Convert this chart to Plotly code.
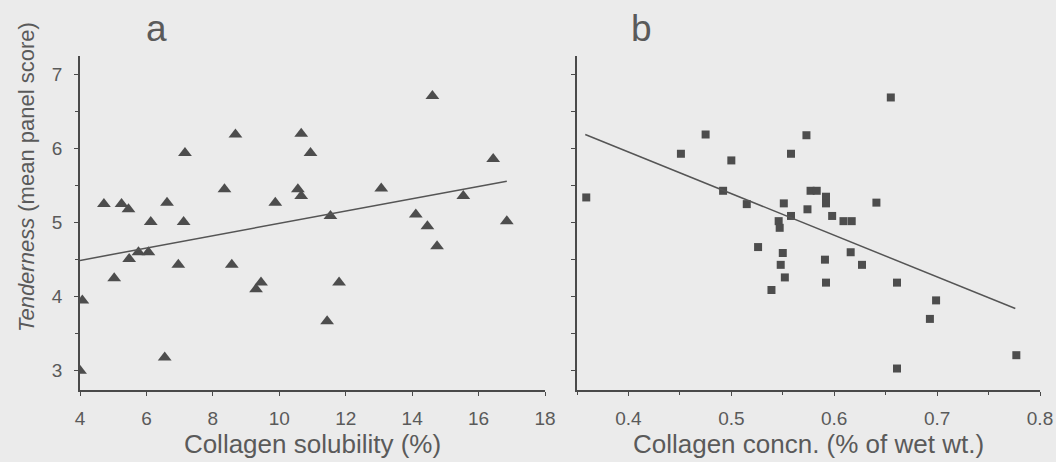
import plotly.graph_objects as go

# Panel a: collagen solubility (%) vs tenderness
sol_x = [4.07, 4.0, 4.72, 5.25, 5.46, 5.03, 5.48, 5.76, 6.06, 6.13, 6.62, 7.16, 7.12, 6.96,
         6.55, 8.35, 8.68, 8.57, 9.88, 9.30, 9.45, 10.66, 10.94, 10.56, 10.66, 11.54, 13.07,
         14.61, 11.80, 11.44, 14.11, 14.46, 14.75, 15.54, 16.44, 16.85]
sol_y = [3.95, 3.0, 5.25, 5.25, 5.18, 4.25, 4.51, 4.60, 4.60, 5.01, 5.27, 5.94, 5.01, 4.43,
         3.18, 5.45, 6.19, 4.43, 5.27, 4.10, 4.19, 6.20, 5.94, 5.45, 5.36, 5.09, 5.46,
         6.71, 4.19, 3.67, 5.11, 4.95, 4.68, 5.36, 5.86, 5.02]
fit_a_x = [4.0, 16.85]
fit_a_y = [4.49, 5.56]

# Panel b: collagen concentration (% of wet wt.) vs tenderness
conc_x = [0.359, 0.451, 0.475, 0.500, 0.492, 0.515, 0.526, 0.539, 0.546, 0.547, 0.550, 0.548,
          0.552, 0.551, 0.558, 0.558, 0.573, 0.655, 0.577, 0.583, 0.592, 0.592, 0.574, 0.598,
          0.609, 0.617, 0.641, 0.591, 0.592, 0.616, 0.627, 0.661, 0.699, 0.693, 0.777, 0.661]
conc_y = [5.34, 5.93, 6.19, 5.84, 5.43, 5.25, 4.67, 4.09, 5.02, 4.93, 4.59, 4.43,
          4.26, 5.26, 5.93, 5.09, 6.18, 6.69, 5.43, 5.43, 5.35, 5.26, 5.18, 5.09,
          5.02, 5.02, 5.27, 4.50, 4.19, 4.60, 4.43, 4.19, 3.95, 3.70, 3.21, 3.03]
fit_b_x = [0.358, 0.776]
fit_b_y = [6.19, 3.84]

a_xticks = [4, 6, 8, 10, 12, 14, 16, 18]
b_xticks = [0.4, 0.5, 0.6, 0.7, 0.8]
yticks = [3, 4, 5, 6, 7]

TXT = "#5a5a5a"
MARK = "#4d4d4d"
AX = "#4a4a4a"
FONT = "Liberation Sans, Arial, sans-serif"

fig = go.Figure()
fig.add_trace(go.Scatter(x=sol_x, y=sol_y, mode="markers", xaxis="x", yaxis="y",
                         marker=dict(symbol="triangle-up", size=12, color=MARK), showlegend=False))
fig.add_trace(go.Scatter(x=fit_a_x, y=fit_a_y, mode="lines", xaxis="x", yaxis="y",
                         line=dict(color="#555555", width=1.5), showlegend=False))
fig.add_trace(go.Scatter(x=conc_x, y=conc_y, mode="markers", xaxis="x2", yaxis="y2",
                         marker=dict(symbol="square", size=8, color=MARK), showlegend=False))
fig.add_trace(go.Scatter(x=fit_b_x, y=fit_b_y, mode="lines", xaxis="x2", yaxis="y2",
                         line=dict(color="#555555", width=1.5), showlegend=False))

W, H = 1056, 462
T, B = 56, 72
PH = H - T - B
yr = [2.74, 7.25]
common_axis = dict(showgrid=False, zeroline=False, showline=True, linecolor=AX, linewidth=1.5,
                   ticks="outside", ticklen=4, tickcolor=AX, automargin=False,
                   tickfont=dict(family=FONT, size=19, color=TXT))


def py(y):
    return (H - B - y) / PH


fig.update_layout(
    width=W, height=H,
    paper_bgcolor="#ebebeb", plot_bgcolor="#ebebeb",
    margin=dict(l=0, r=0, t=T, b=B),
    font=dict(family=FONT, color=TXT),
    xaxis=dict(common_axis, domain=[80 / W, 545 / W], range=[4, 18], tickvals=a_xticks,
               anchor="y", ticklabelstandoff=6,
               title=dict(text="Collagen solubility (%)", font=dict(size=26, color=TXT), standoff=7)),
    yaxis=dict(common_axis, domain=[0, 1], range=yr, tickvals=yticks, anchor="x",
               ticklabelstandoff=8,
               minor=dict(dtick=0.5, tick0=0, ticks="outside", ticklen=3, tickcolor=AX)),
    xaxis2=dict(common_axis, domain=[577 / W, 1040 / W], range=[0.35, 0.8], tickvals=b_xticks,
                anchor="y2", ticklabelstandoff=6,
                tickformat=".1f",
                minor=dict(dtick=0.05, tick0=0, ticks="outside", ticklen=3, tickcolor=AX),
                title=dict(text="Collagen concn. (% of wet wt.)", font=dict(size=26, color=TXT), standoff=7)),
    yaxis2=dict(common_axis, domain=[0, 1], range=yr, tickvals=[3, 3.5, 4, 4.5, 5, 5.5, 6, 6.5, 7],
                showticklabels=False, anchor="x2"),
    annotations=[
        dict(text="<i>Tenderness</i> (mean panel score)", x=26 / W, y=py(177), xref="paper", yref="paper",
             showarrow=False, textangle=-90, font=dict(size=22, color=TXT, family=FONT),
             xanchor="center", yanchor="middle"),
        dict(text="a", x=156 / W, y=py(28), xref="paper", yref="paper", showarrow=False,
             font=dict(size=37, color=TXT, family=FONT), xanchor="center", yanchor="middle"),
        dict(text="b", x=641 / W, y=py(28), xref="paper", yref="paper", showarrow=False,
             font=dict(size=37, color=TXT, family=FONT), xanchor="center", yanchor="middle"),
    ],
)

fig.write_html("out.html", config={"displayModeBar": False},
               post_script="document.body.style.margin='0';document.body.style.overflow='hidden';")
